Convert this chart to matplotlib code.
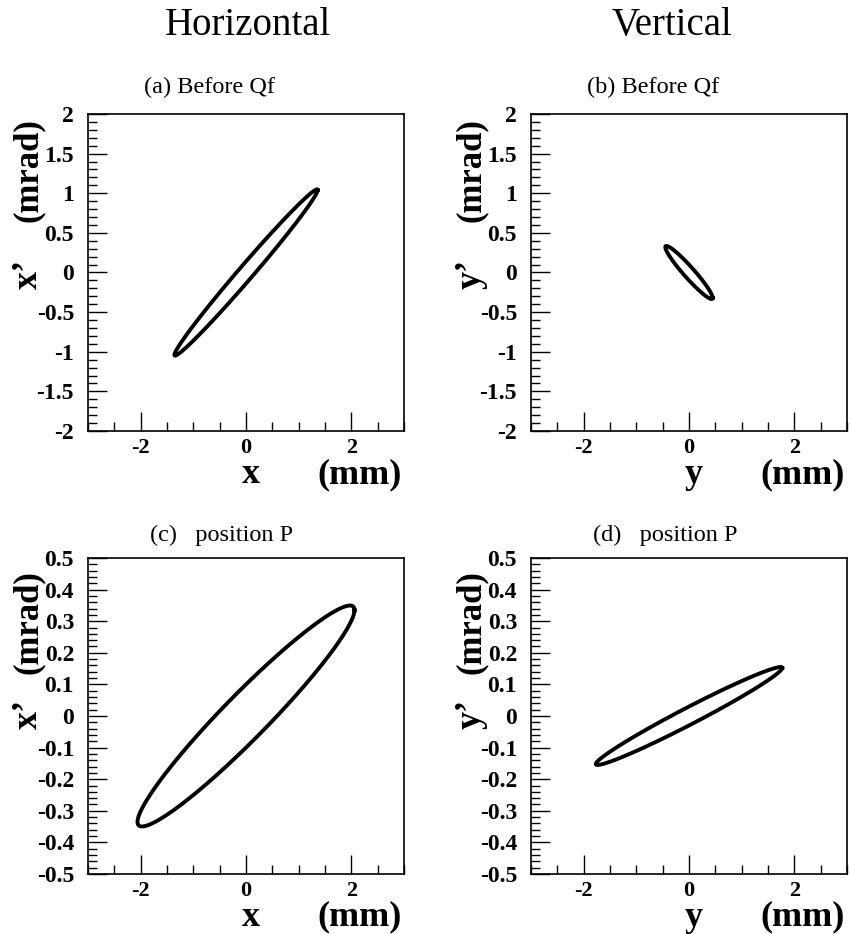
import numpy as np
import matplotlib
matplotlib.use("Agg")
import matplotlib.pyplot as plt
from matplotlib.ticker import MultipleLocator, FuncFormatter

plt.rcParams["font.family"] = ["Liberation Serif", "DejaVu Serif"]
plt.rcParams["axes.unicode_minus"] = False

# Phase-space ellipses: x = xmax*cos t, x' = xp_at_xmax*cos t + xp_at_x0*sin t
panel_titles = ["(a) Before Qf", "(b) Before Qf", "(c)   position P", "(d)   position P"]
pos_names = ["x", "y", "x", "y"]
x_max = [1.36, 0.45, 2.06, 1.77]          # mm
xp_at_xmax = [1.04, -0.32, 0.335, 0.152]  # mrad
xp_at_x0 = [0.14, 0.10, 0.10, 0.03]       # mrad

x_limits = (-3, 3)
y_limits = [(-2, 2), (-2, 2), (-0.5, 0.5), (-0.5, 0.5)]
y_major = [0.5, 0.5, 0.1, 0.1]
y_minor = [0.1, 0.1, 0.02, 0.02]
x_major, x_minor = 2, 0.5

column_titles = ["Horizontal", "Vertical"]

W, H = 850, 934
fig = plt.figure(figsize=(W / 100, H / 100), dpi=100)

# axes boxes in pixels: left, top, right, bottom
boxes = [(88, 114, 404, 431), (531, 114, 847, 431),
         (88, 558, 404, 874), (531, 558, 847, 874)]

t = np.linspace(0, 2 * np.pi, 721)
fmt = FuncFormatter(lambda v, p: "%g" % round(v, 6))

for i, (l, tp, r, b) in enumerate(boxes):
    ax = fig.add_axes([l / W, 1 - b / H, (r - l) / W, (b - tp) / H])
    xs = x_max[i] * np.cos(t)
    ys = xp_at_xmax[i] * np.cos(t) + xp_at_x0[i] * np.sin(t)
    ax.plot(xs, ys, color="black", lw=2.8, solid_joinstyle="round")
    ax.set_xlim(*x_limits)
    ax.set_ylim(*y_limits[i])
    ax.xaxis.set_major_locator(MultipleLocator(x_major))
    ax.xaxis.set_minor_locator(MultipleLocator(x_minor))
    ax.yaxis.set_major_locator(MultipleLocator(y_major[i]))
    ax.yaxis.set_minor_locator(MultipleLocator(y_minor[i]))
    ax.xaxis.set_major_formatter(fmt)
    ax.yaxis.set_major_formatter(fmt)
    ax.tick_params(which="both", direction="in", top=False, right=False,
                   color="black", width=1.0)
    ax.tick_params(axis="y", which="major", length=13.5, labelsize=17, pad=10)
    ax.tick_params(axis="x", which="major", length=13.5, labelsize=16, pad=5)
    ax.tick_params(which="minor", length=6.5)
    for lab in ax.get_xticklabels() + ax.get_yticklabels():
        lab.set_fontweight("bold")
    for sp in ax.spines.values():
        sp.set_linewidth(1.2)

    row = i // 2
    # axis titles
    xl_y = -0.165 if row == 0 else -0.164
    ax.text(0.516, xl_y, pos_names[i], transform=ax.transAxes, ha="center",
            va="baseline", fontsize=26, fontweight="bold")
    ax.text(0.994, xl_y, "(mm)", transform=ax.transAxes, ha="right",
            va="baseline", fontsize=26, fontweight="bold")
    mr_top = 0.987 if row == 0 else 0.962
    xp_bot = 0.447 if row == 0 else 0.458
    ax.text(-0.19, mr_top, "(mrad)", transform=ax.transAxes, ha="center",
            va="top", rotation=90, fontsize=25, fontweight="bold")
    ax.text(-0.19, xp_bot, pos_names[i] + "\u2019", transform=ax.transAxes,
            ha="center", va="bottom", rotation=90, fontsize=26,
            fontweight="bold")

    # panel title
    tx = 0.386 if row == 0 else 0.424
    ty = 1.066 if row == 0 else 1.055
    ax.text(tx, ty, panel_titles[i], transform=ax.transAxes, ha="center",
            va="baseline", fontsize=17.5)

fig.text(248 / W, 1 - 35 / H, column_titles[0], ha="center", va="baseline",
         fontsize=28)
fig.text(672 / W, 1 - 35 / H, column_titles[1], ha="center", va="baseline",
         fontsize=28)

fig.savefig("out.png", dpi=100)
